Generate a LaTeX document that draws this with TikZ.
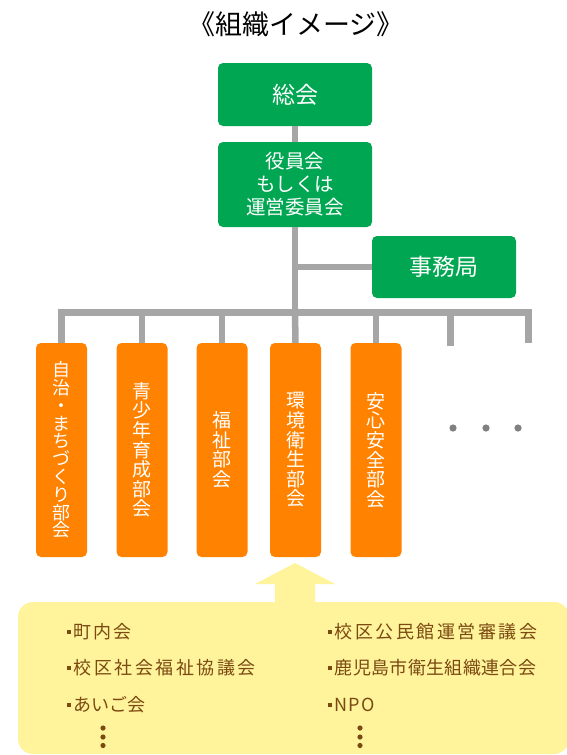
\documentclass[tikz,border=0pt]{standalone}
\usepackage{fontspec}
\setmainfont{Noto Sans CJK JP}
\definecolor{grn}{RGB}{0,166,81}
\definecolor{org}{RGB}{255,130,0}
\definecolor{lgray}{RGB}{166,166,166}
\definecolor{dgray}{RGB}{128,128,128}
\definecolor{yel}{RGB}{255,243,155}
\definecolor{brn}{RGB}{123,74,18}
\newcommand{\bul}{\rule[4.6pt]{4pt}{4pt}\hspace{2.5pt}}
\begin{document}
\begin{tikzpicture}[x=1pt,y=-1pt,
  greenbox/.style={fill=grn, rounded corners=5, text=white, inner sep=0pt, align=center},
  orgbox/.style={fill=org, rounded corners=5, text=white, inner sep=0pt, align=center, minimum width=51, minimum height=214},
  conn/.style={draw=lgray, line width=6.5pt},
  item/.style={anchor=west, text=brn, inner sep=0pt, font=\fontsize{18}{18}\selectfont},
  gdot/.style={fill=dgray, draw=none},
  bdot/.style={fill=brn, draw=none}]
\useasboundingbox (0,0) rectangle (566,755);

% title
\node (title) at (296,24) {\fontsize{27}{27}\selectfont 《組織イメージ》};

% callout
\fill[yel, rounded corners=15] (18,602) rectangle (569,754);
\fill[yel] (275,604) -- (275,584) -- (255,584) -- (295,563) -- (335,584) -- (315,584) -- (315,604) -- cycle;

% nodes
\node[greenbox, minimum width=154, minimum height=63, font=\fontsize{23}{23}\selectfont] (soukai) at (295,94.5) {総会};
\node[greenbox, minimum width=154, minimum height=85, font=\fontsize{19.5}{23}\selectfont] (yakuin) at (295,184.5) {役員会\\もしくは\\運営委員会};
\node[greenbox, minimum width=144, minimum height=62, font=\fontsize{23}{23}\selectfont] (jimu) at (444,267) {事務局};

\node[orgbox, font=\fontsize{18}{17.8}\selectfont] (b1) at (61.5,450) {自\\治\\・\\ま\\ち\\づ\\く\\り\\部\\会};
\node[orgbox, font=\fontsize{19}{19.6}\selectfont] (b2) at (142,450) {青\\少\\年\\育\\成\\部\\会};
\node[orgbox, font=\fontsize{19}{19.6}\selectfont] (b3) at (222,450) {福\\祉\\部\\会};
\node[orgbox, font=\fontsize{19}{19.6}\selectfont] (b4) at (295.5,450) {環\\境\\衛\\生\\部\\会};
\node[orgbox, font=\fontsize{19}{19.6}\selectfont] (b5) at (376,450) {安\\心\\安\\全\\部\\会};

% connectors
\coordinate (tj) at (295,267);
\coordinate (bus) at (295,312.5);
\coordinate (e1) at (450.5,346);
\coordinate (e2) at (528.5,343);
\draw[conn] (soukai.south) -- (yakuin.north);
\draw[conn] (yakuin.south) -- (bus);
\draw[conn] (tj) -- (jimu.west);
\draw[conn] (bus) -| (b1.north);
\draw[conn] (bus) -| (b2.north);
\draw[conn] (bus) -| (b3.north);
\draw[conn] (bus) -- (b4.north);
\draw[conn] (bus) -| (b5.north);
\draw[conn] (bus) -| (e1);
\draw[conn] (bus) -| (e2);

% continuation dots
\fill[gdot] (453,428) circle (3.6);
\fill[gdot] (486,428) circle (3.6);
\fill[gdot] (518,428) circle (3.6);

% callout text
\node[item] (i1) at (67,632) {\bul{}\addfontfeature{LetterSpace=10}町内会};
\node[item] (i2) at (67,668) {\bul{}\addfontfeature{LetterSpace=14}校区社会福祉協議会};
\node[item] (i3) at (67,705) {\bul{}あいご会};
\node[item] (i4) at (328,632) {\bul{}\addfontfeature{LetterSpace=14}校区公民館運営審議会};
\node[item] (i5) at (328,668) {\bul{}\addfontfeature{LetterSpace=2}鹿児島市衛生組織連合会};
\node[item] (i6) at (328,705) {\bul{}\addfontfeature{LetterSpace=6}NPO};
\fill[bdot] (103,728) circle (2.6);
\fill[bdot] (103,737) circle (2.6);
\fill[bdot] (103,745.5) circle (2.6);
\fill[bdot] (360,728) circle (2.6);
\fill[bdot] (360,737) circle (2.6);
\fill[bdot] (360,745.5) circle (2.6);
\end{tikzpicture}
\end{document}
